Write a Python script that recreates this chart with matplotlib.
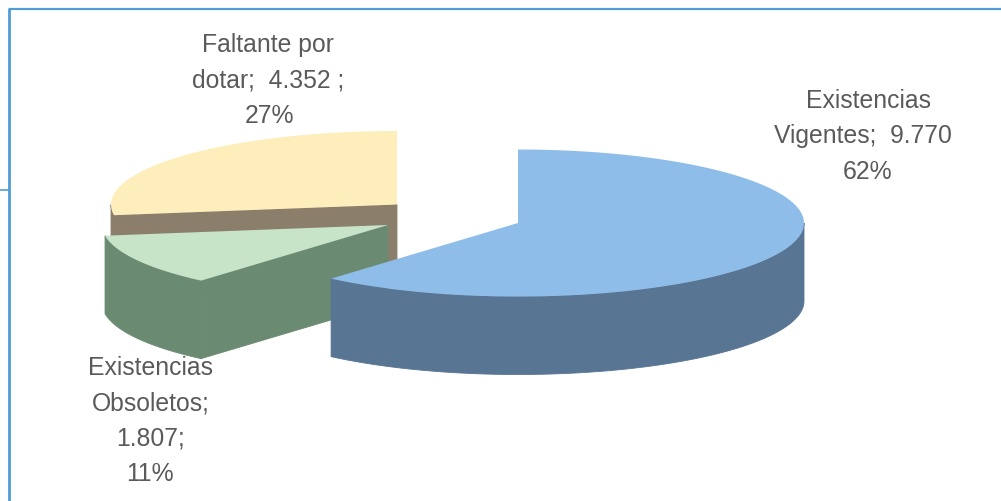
import numpy as np
import matplotlib
matplotlib.use("Agg")
import matplotlib.pyplot as plt
from matplotlib.patches import Polygon

plt.rcParams['font.family'] = ['Liberation Sans', 'DejaVu Sans']

# values from the slice labels, clockwise from 12 o'clock
names = ['Existencias Vigentes', 'Existencias Obsoletos', 'Faltante por dotar']
values = [9770, 1807, 4352]
top_colors = ['#8fbde9', '#c7e3c8', '#fdeebb']
wall_colors = ['#587593', '#6b8a72', '#8b7f6c']

# exploded slice centres, in pixels
centres = [(518, 224), (388, 226), (397, 205.5)]
rx, ry, depth = 286, 73.5, 78

label_lines = [
    ['Existencias', 'Vigentes;  9.770', '62%'],
    ['Existencias', 'Obsoletos;', '1.807;', '11%'],
    ['Faltante por', 'dotar;  4.352 ;', '27%'],
]
label_x = [[869, 863, 868], [150, 151, 150, 150], [268, 268, 270]]
label_y = [101, 368, 45]


def arc(cx, cy, a0, a1, dy=0):
    t = np.radians(np.linspace(a0, a1, 120))
    return np.column_stack([cx + rx * np.cos(t), cy - ry * np.sin(t) + dy])


fig = plt.figure(figsize=(10.01, 5.02), dpi=100)
ax = fig.add_axes([0, 0, 1, 1])
ax.set_xlim(0, 1001)
ax.set_ylim(502, 0)
ax.axis('off')

# slice angles (clockwise, start at the top)
shares = np.array(values) / sum(values) * 360
ends = 90 - np.cumsum(shares)
starts = ends + shares

# back to front so blue ends up over the other two
for i in [2, 1, 0]:
    cx, cy = centres[i]
    a0, a1 = starts[i], ends[i]
    z = 3 - i
    # outer wall, only the part facing the viewer
    lo, hi = (a1 % 360), (a0 % 360)
    if hi <= lo:
        hi += 360
    w0, w1 = max(lo, 180), min(hi, 360)
    if w1 > w0:
        front = arc(cx, cy, w0, w1)
        back = arc(cx, cy, w1, w0, depth)
        ax.add_patch(Polygon(np.vstack([front, back]), fc=wall_colors[i], ec=wall_colors[i], lw=0.6, zorder=z))
    # cut face that looks at the viewer (blue has none)
    if i > 0:
        edge = arc(cx, cy, a0, a0)[0]
        face = [(cx, cy), edge, (edge[0], edge[1] + depth), (cx, cy + depth)]
        ax.add_patch(Polygon(face, fc=wall_colors[i], ec=wall_colors[i], lw=0.6, zorder=z))
    top = np.vstack([[(cx, cy)], arc(cx, cy, a0, a1)])
    ax.add_patch(Polygon(top, fc=top_colors[i], ec='none', zorder=z + 0.5))

for lines, xs, y in zip(label_lines, label_x, label_y):
    for k, line in enumerate(lines):
        ax.text(xs[k], y + k * 35.5, line, ha='center', va='center', fontsize=17.8,
                color='#5a5a5a', zorder=6)

# page frame
frame = '#4f9cd6'
ax.plot([9, 1001], [10, 10], color=frame, lw=1.6, solid_capstyle='butt')
ax.plot([9, 9], [9, 502], color=frame, lw=2, solid_capstyle='butt')
ax.plot([0, 9], [191, 191], color=frame, lw=1.2, solid_capstyle='butt')

fig.savefig('out.png', dpi=100)
